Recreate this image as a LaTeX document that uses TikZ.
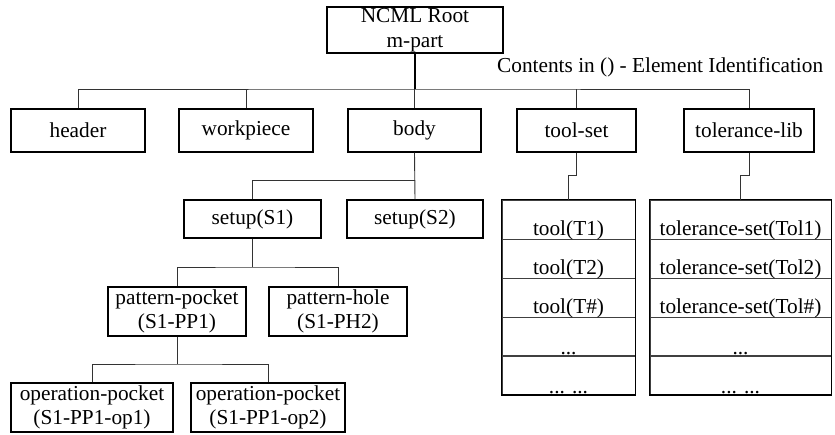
\documentclass[tikz,border=0pt]{standalone}
\usepackage{fontspec}
\setmainfont{Liberation Serif}
\begin{document}
\begin{tikzpicture}[x=1pt,y=-1pt,
  box/.style={draw=black, line width=1.2pt, inner sep=0pt, align=center,
    font=\fontsize{21.3}{24.5}\selectfont, minimum height=43pt},
  row/.style={draw=black!75, line width=0.9pt, inner sep=0pt, minimum height=39pt},
  rowtext/.style={anchor=base, inner sep=0pt, font=\fontsize{21.3}{24.5}\selectfont},
  conn/.style={draw=black!80, line width=0.9pt},
  edge/.style={draw=black, line width=1.3pt}]
\useasboundingbox (0,0) rectangle (835,435);

% top level
\node[box, minimum width=176pt, minimum height=46pt] (root) at (415,30) {NCML Root\\m-part};
\node[anchor=base west, inner sep=0pt, font=\fontsize{21.3}{24.5}\selectfont] (note) at (497,73) {Contents in () - Element Identification};

\node[box, minimum width=134pt] (header) at (78,130.5) {header};
\node[box, minimum width=134pt] (workpiece) at (246,130.5) {workpiece};
\node[box, minimum width=133pt] (body) at (414.5,130.5) {body};
\node[box, minimum width=119pt] (toolset) at (576.5,130.5) {tool-set};
\node[box, minimum width=130pt] (tollib) at (749,130.5) {tolerance-lib};

% setups
\node[box, minimum width=137pt, minimum height=38pt] (s1) at (252.5,219) {setup(S1)};
\node[box, minimum width=136pt, minimum height=38pt] (s2) at (415,219) {setup(S2)};

% patterns
\node[box, minimum width=138pt, minimum height=49pt] (pp) at (177,311.5) {pattern-pocket\\(S1-PP1)};
\node[box, minimum width=138pt, minimum height=49pt] (ph) at (338,311.5) {pattern-hole\\(S1-PH2)};

% operations
\node[box, minimum width=162pt, minimum height=49pt] (op1) at (92,407.5) {operation-pocket\\(S1-PP1-op1)};
\node[box, minimum width=154pt, minimum height=49pt] (op2) at (268,407.5) {operation-pocket\\(S1-PP1-op2)};

% tool list
\node[row, minimum width=133pt] (t1) at (568.5,219.5) {};
\node[row, minimum width=133pt] (t2) at (568.5,258.5) {};
\node[row, minimum width=133pt] (t3) at (568.5,297.5) {};
\node[row, minimum width=133pt] (t4) at (568.5,336.5) {};
\node[row, minimum width=133pt] (t5) at (568.5,375) {};
\node[rowtext] at ([yshift=3.5pt]t1.south) {tool(T1)};
\node[rowtext] at ([yshift=3.5pt]t2.south) {tool(T2)};
\node[rowtext] at ([yshift=3.5pt]t3.south) {tool(T\#)};
\node[rowtext] at ([yshift=2pt]t4.south) {...};
\node[rowtext] at ([yshift=1pt]t5.south) {... ...};

% tolerance list
\node[row, minimum width=181pt] (r1) at (740.5,219.5) {};
\node[row, minimum width=181pt] (r2) at (740.5,258.5) {};
\node[row, minimum width=181pt] (r3) at (740.5,297.5) {};
\node[row, minimum width=181pt] (r4) at (740.5,336.5) {};
\node[row, minimum width=181pt] (r5) at (740.5,375) {};
\node[rowtext] at ([yshift=3.5pt]r1.south) {tolerance-set(Tol1)};
\node[rowtext] at ([yshift=3.5pt]r2.south) {tolerance-set(Tol2)};
\node[rowtext] at ([yshift=3.5pt]r3.south) {tolerance-set(Tol\#)};
\node[rowtext] at ([yshift=2pt]r4.south) {...};
\node[rowtext] at ([yshift=1pt]r5.south) {... ...};

% outer frames of lists (thicker sides)
\draw[edge] (t1.north west) rectangle (t5.south east);
\draw[edge] (r1.north west) rectangle (r5.south east);

% connectors
\coordinate (bus) at (415,89);
\draw[edge, line width=1.8pt] (root.south) -- (bus);
\draw[conn] (header.north) |- (bus) -| (tollib.north);
\draw[conn] (workpiece.north) -- (workpiece.north |- bus);
\draw[conn] (body.north) -- (body.north |- bus);
\draw[conn] (toolset.north) -- (toolset.north |- bus);

\coordinate (sb) at (415,180);
\draw[conn] (body.south) -- (s2.north);
\draw[conn] (s1.north) |- (sb);

\draw[conn] (toolset.south) -- ++(0,23) -| (t1.north);
\draw[conn] (tollib.south) -- ++(0,23) -| (r1.north);

\coordinate (pb) at (252.5,267);
\draw[conn] (s1.south) -- (pb);
\draw[conn] (pp.north) |- (pb) -| (ph.north);

\coordinate (ob) at (177,364);
\draw[conn] (pp.south) -- (ob);
\draw[conn] (op1.north) |- (ob) -| (op2.north);
\end{tikzpicture}
\end{document}
